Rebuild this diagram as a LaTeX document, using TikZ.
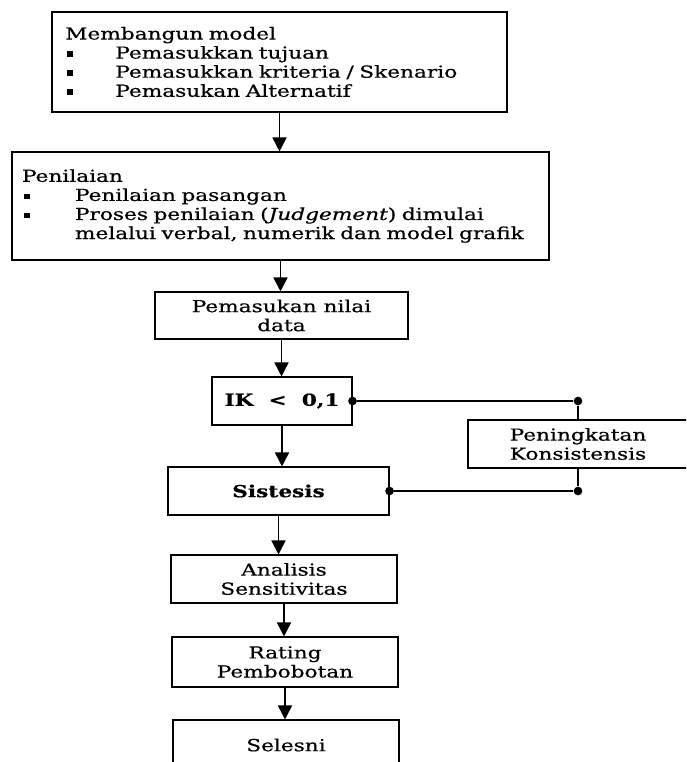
\documentclass[tikz,border=0pt]{standalone}
\usepackage{fontspec}
\setmainfont{DejaVu Serif}[FakeStretch=1.31,FakeBold=0.6]
\usetikzlibrary{arrows.meta, positioning, calc}

\newcommand{\butir}[2]{\makebox[#1][l]{\hspace{1.5pt}\raisebox{1.5pt}{\rule{4.5pt}{4pt}}}#2}

\begin{document}
\begin{tikzpicture}[x=0.75pt,y=-0.75pt,
		kotak/.style={draw,line width=.8pt,inner sep=0pt,align=center},
		panah/.style={line width=1.2pt,-{Triangle[length=10.5pt,width=10.5pt]}},
		titik/.style={circle,fill=black,inner sep=0pt,minimum size=6.5pt},
		font=\fontsize{12.4}{14.3}\selectfont]
		\clip (0,0) rectangle (686,762);
		
		\node(model) at (279.5,62)[kotak,minimum width=341.25pt,minimum height=75pt,text width=321.25pt,inner xsep=10pt,align=left]{Membangun model\\
			\butir{37.5pt}{Pemasukkan tujuan}\\
			\butir{37.5pt}{Pemasukkan kriteria / Skenario}\\
			\butir{37.5pt}{Pemasukan Alternatif}};
		\node(nilai) at (280.5,206)[kotak,minimum width=402.75pt,minimum height=81pt,text width=387.75pt,inner xsep=7.5pt,align=left]{Penilaian\\
			\butir{39.75pt}{Penilaian pasangan}\\
			\butir{39.75pt}{Proses penilaian (\textit{Judgement}) dimulai}\\
			\hspace*{39.75pt}melalui verbal, numerik dan model grafik};
		\node(data) at (281.5,315.5)[kotak,minimum width=189.75pt,minimum height=35.25pt]{Pemasukan nilai\\data};
		\node(ik) at (282,401)[kotak,minimum width=105pt,minimum height=36pt,font=\fontsize{12.4}{14.3}\selectfont\bfseries]{IK ~<~ 0,1};
		\node(pk) at (578,444)[kotak,minimum width=165pt,minimum height=36pt]{Peningkatan\\Konsistensis};
		\node(sis) at (278.5,491)[kotak,minimum width=165.75pt,minimum height=36pt,font=\fontsize{12.4}{14.3}\selectfont\bfseries]{Sistesis};
		\node(ana) at (284,579)[kotak,minimum width=169.5pt,minimum height=36pt]{Analisis\\Sensitivitas};
		\node(rat) at (285,662)[kotak,minimum width=169.5pt,minimum height=37.5pt]{Rating\\Pembobotan};
		\node(sel) at (286,745)[kotak,minimum width=169.5pt,minimum height=37.5pt]{Selesni};
		
		\draw[panah] (model) -- (model |- nilai.north);
		\draw[panah] (nilai) -- (nilai |- data.north);
		\draw[panah] (data) -- (data |- ik.north);
		\draw[panah] (ik) -- (ik |- sis.north);
		\draw[panah] (sis) -- (sis |- ana.north);
		\draw[panah] (ana) -- (ana |- rat.north);
		\draw[panah] (rat) -- (rat |- sel.north);
		
		% umpan balik konsistensi
		\node(t1) at (ik.east)[titik]{};
		\node(t2) at (pk |- ik.east)[titik]{};
		\node(t3) at (pk |- sis.east)[titik]{};
		\node(t4) at (sis.east)[titik]{};
		\draw[line width=.8pt] (t1) -- (t2) -- (pk);
		\draw[line width=.8pt] (pk) -- (t3) -- (t4);
		
	\end{tikzpicture}
\end{document}
